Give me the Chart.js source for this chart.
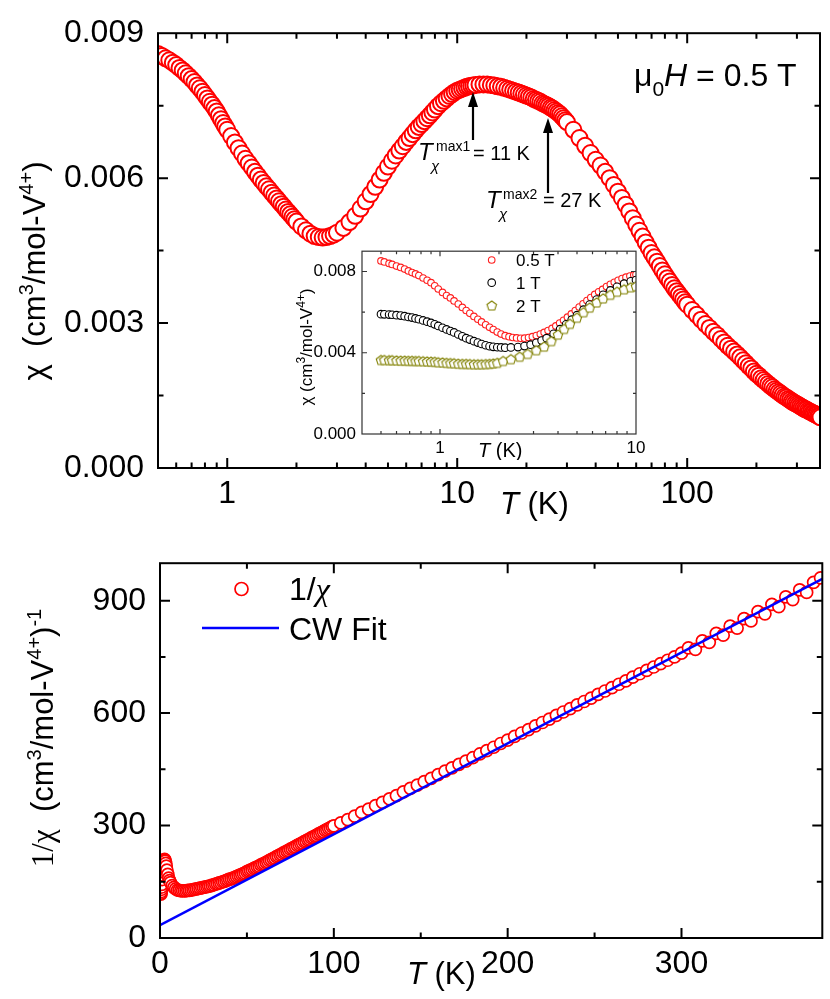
<!DOCTYPE html>
<html>
<head>
<meta charset="utf-8">
<script src="https://cdn.jsdelivr.net/npm/chart.js@4.4.1/dist/chart.umd.min.js"></script>
<style>
  html, body { margin: 0; padding: 0; background: #fff; }
  #wrap { position: relative; width: 830px; height: 999px; overflow: hidden; }
  canvas { position: absolute; }
  #top { left: 0; top: 0; }
  #bottom { left: 0; top: 530px; }
  #inset { left: 270px; top: 235px; }
</style>
</head>
<body>
<div id="wrap">
  <canvas id="top" width="830" height="530"></canvas>
  <canvas id="bottom" width="830" height="469"></canvas>
  <canvas id="inset" width="380" height="225"></canvas>
</div>
<script>
// ---- top panel: chi(T) at 0.5 T
const chiTemp = [
  0.50, 0.52, 0.54, 0.56, 0.58, 0.60, 0.62, 0.64, 0.66, 0.68, 0.70, 0.72, 0.74, 0.76, 0.78, 0.80,
  0.82, 0.84, 0.86, 0.88, 0.90, 0.92, 0.94, 0.96, 0.98, 1.00,
  1.04, 1.08, 1.12, 1.16, 1.20, 1.24, 1.28, 1.32, 1.36, 1.40, 1.44, 1.48, 1.52, 1.56, 1.60, 1.64,
  1.68, 1.72, 1.76, 1.80, 1.84, 1.88, 1.92, 1.96, 2.00,
  2.1, 2.2, 2.3, 2.4, 2.5, 2.6, 2.7, 2.8, 2.9, 3.0,
  3.2, 3.4, 3.6, 3.8, 4.0, 4.2, 4.4, 4.6, 4.8, 5.0, 5.2, 5.4, 5.6, 5.8, 6.0, 6.2, 6.4, 6.6, 6.8,
  7.0, 7.2, 7.4, 7.6, 7.8, 8.0,
  8.25, 8.5, 8.75, 9.0, 9.25, 9.5, 9.75, 10.0, 10.25, 10.5, 10.75, 11.0, 11.25, 11.5, 11.75, 12.0,
  12.5, 13, 13.5, 14, 14.5, 15, 15.5, 16, 16.5, 17, 17.5, 18, 18.5, 19, 19.5, 20, 20.5, 21, 21.5,
  22, 22.5, 23, 23.5, 24, 24.5, 25, 25.5, 26, 26.5, 27, 27.5, 28, 28.5, 29, 29.5, 30,
  32, 34, 36, 38, 40, 42, 44, 46, 48, 50, 52, 54, 56, 58, 60, 62, 64, 66, 68, 70, 72, 74, 76, 78,
  80, 82, 84, 86, 88, 90, 92, 94, 96, 98, 100,
  105, 110, 115, 120, 125, 130, 135, 140, 145, 150, 155, 160, 165, 170, 175, 180, 185, 190, 195,
  200, 205, 210, 215, 220, 225, 230, 235, 240, 245, 250, 255, 260, 265, 270, 275, 280, 285, 290,
  295, 300, 305, 310, 315, 320, 325, 330, 335, 340, 345, 350, 355, 360, 365, 370, 375, 380]
const chiVal = [
  0.00857, 0.00853, 0.00848, 0.00844, 0.00839, 0.00834, 0.00828, 0.00823, 0.00817, 0.00811,
  0.00805, 0.00799, 0.00792, 0.00786, 0.00779, 0.00772, 0.00765, 0.00758, 0.00752, 0.00745,
  0.00738, 0.00730, 0.00722, 0.00714, 0.00707, 0.00700,
  0.00687, 0.00674, 0.00662, 0.00651, 0.00640, 0.00631, 0.00622, 0.00613, 0.00605, 0.00597,
  0.00590, 0.00583, 0.00577, 0.00570, 0.00564, 0.00558, 0.00552, 0.00546, 0.00541, 0.00535,
  0.00530, 0.00525, 0.00520, 0.00515, 0.00510,
  0.00500, 0.00492, 0.00485, 0.00480, 0.00478, 0.00477, 0.00478, 0.00480, 0.00483, 0.00487,
  0.00497, 0.00509, 0.00522, 0.00537, 0.00552, 0.00567, 0.00582, 0.00597, 0.00611, 0.00624,
  0.00636, 0.00647, 0.00657, 0.00666, 0.00675, 0.00683, 0.00691, 0.00699, 0.00706, 0.00712,
  0.00718, 0.00724, 0.00730, 0.00736, 0.00742,
  0.00749, 0.00755, 0.00760, 0.00765, 0.00770, 0.00774, 0.00778, 0.00781, 0.00783, 0.00785,
  0.00787, 0.00789, 0.00790, 0.00791, 0.00792, 0.00793,
  0.00794, 0.00794, 0.00794, 0.00793, 0.00792, 0.00790, 0.00789, 0.00787, 0.00785, 0.00783,
  0.00781, 0.00779, 0.00777, 0.00775, 0.00773, 0.00771, 0.00769, 0.00767, 0.00764, 0.00762,
  0.00760, 0.00758, 0.00755, 0.00753, 0.00751, 0.00749, 0.00746, 0.00744, 0.00741, 0.00738,
  0.00735, 0.00732, 0.00728, 0.00724, 0.00720, 0.00716,
  0.00700, 0.00683, 0.00667, 0.00652, 0.00638, 0.00626, 0.00613, 0.00600, 0.00586, 0.00572,
  0.00559, 0.00545, 0.00531, 0.00517, 0.00504, 0.00491, 0.00479, 0.00467, 0.00456, 0.00445,
  0.00436, 0.00427, 0.00418, 0.00409, 0.00401, 0.00393, 0.00386, 0.00379, 0.00372, 0.00366,
  0.00360, 0.00354, 0.00349, 0.00343, 0.00338,
  0.00327, 0.00317, 0.00307, 0.00298, 0.00290, 0.00282, 0.00275, 0.00267, 0.00260, 0.00253,
  0.00247, 0.00241, 0.00235, 0.00229, 0.00223, 0.00217, 0.00211, 0.00206, 0.00200, 0.00195,
  0.00191, 0.00186, 0.00182, 0.00178, 0.00174, 0.00170, 0.00167, 0.00163, 0.00160, 0.00157,
  0.00154, 0.00151, 0.00148, 0.00146, 0.00143, 0.00141, 0.00138, 0.00136, 0.00134, 0.00132,
  0.00130, 0.00128, 0.00126, 0.00124, 0.00122, 0.00121, 0.00119, 0.00117, 0.00116, 0.00114,
  0.00113, 0.00111, 0.00110, 0.00108, 0.00107, 0.00105]
const topXLabels = [1, 10, 100]
const topYLabels = [0, 0.003, 0.006, 0.009]

// ---- inset: low-T chi for three fields
const insetFields = ['0.5 T', '1 T', '2 T']
const insetTemp05 = [0.50, 0.52, 0.55, 0.57, 0.60, 0.63, 0.66, 0.69, 0.72, 0.75, 0.78, 0.82, 0.86, 0.90,
  0.94, 0.98, 1.03, 1.08, 1.13, 1.18, 1.24, 1.30, 1.36, 1.42, 1.49, 1.56, 1.63, 1.71, 1.79, 1.87, 1.96,
  2.05, 2.15, 2.25, 2.35, 2.46, 2.58, 2.70, 2.83, 2.96, 3.10, 3.25, 3.40, 3.56, 3.73, 3.90, 4.08, 4.27,
  4.47, 4.68, 4.90, 5.13, 5.37, 5.62, 5.88, 6.16, 6.45, 6.75, 7.07, 7.40, 7.75, 8.11, 8.49, 8.89, 9.31,
  9.75, 10.0]
const insetChi05 = [0.00852, 0.00847, 0.00840, 0.00835, 0.00827, 0.00820, 0.00812, 0.00803, 0.00795,
  0.00788, 0.00780, 0.00768, 0.00757, 0.00745, 0.00730, 0.00714, 0.00697, 0.00682, 0.00670, 0.00655,
  0.00640, 0.00623, 0.00608, 0.00594, 0.00579, 0.00565, 0.00552, 0.00538, 0.00525, 0.00514, 0.00502,
  0.00492, 0.00484, 0.00479, 0.00475, 0.00473, 0.00471, 0.00472, 0.00475, 0.00479, 0.00485, 0.00492,
  0.00500, 0.00509, 0.00520, 0.00532, 0.00546, 0.00560, 0.00575, 0.00591, 0.00608, 0.00625, 0.00641,
  0.00657, 0.00672, 0.00687, 0.00700, 0.00712, 0.00726, 0.00737, 0.00747, 0.00757, 0.00765, 0.00772,
  0.00778, 0.00783, 0.00785]
const insetTemp1 = [0.50, 0.52, 0.55, 0.57, 0.60, 0.63, 0.66, 0.69, 0.72, 0.75, 0.78, 0.82, 0.86, 0.90,
  0.94, 0.98, 1.03, 1.08, 1.13, 1.18, 1.24, 1.30, 1.36, 1.42, 1.49, 1.56, 1.63, 1.71, 1.79, 1.87, 1.96,
  2.05, 2.15, 2.30, 2.50, 2.70, 2.90, 3.10, 3.30, 3.50, 3.80, 4.10, 4.40, 4.70, 5.00, 5.40, 5.80, 6.30,
  6.80, 7.40, 8.00, 8.70, 9.40, 10.0]
const insetChi1 = [0.00590, 0.00589, 0.00588, 0.00587, 0.00585, 0.00583, 0.00580, 0.00576, 0.00573,
  0.00569, 0.00565, 0.00559, 0.00553, 0.00547, 0.00540, 0.00532, 0.00523, 0.00515, 0.00507, 0.00500,
  0.00490, 0.00481, 0.00472, 0.00465, 0.00457, 0.00450, 0.00443, 0.00437, 0.00432, 0.00429, 0.00427,
  0.00426, 0.00425, 0.00426, 0.00428, 0.00433, 0.00440, 0.00449, 0.00460, 0.00472, 0.00493, 0.00516,
  0.00540, 0.00563, 0.00585, 0.00612, 0.00637, 0.00662, 0.00685, 0.00707, 0.00725, 0.00740, 0.00752,
  0.00758]
const insetTemp2 = [0.50, 0.52, 0.55, 0.57, 0.60, 0.63, 0.66, 0.69, 0.72, 0.75, 0.78, 0.82, 0.86, 0.90,
  0.94, 0.98, 1.03, 1.08, 1.13, 1.18, 1.24, 1.30, 1.36, 1.42, 1.49, 1.56, 1.63, 1.71, 1.79, 1.87,
  1.96, 2.10, 2.30, 2.55, 2.80, 3.10, 3.40, 3.70, 4.00, 4.30, 4.60, 5.00, 5.40, 5.80, 6.30, 6.80, 7.40,
  8.00, 8.70, 9.40, 10.0]
const insetChi2 = [0.00362, 0.00362, 0.00361, 0.00361, 0.00360, 0.00359, 0.00359, 0.00358, 0.00358,
  0.00357, 0.00357, 0.00356, 0.00355, 0.00354, 0.00353, 0.00351, 0.00350, 0.00348, 0.00347, 0.00346,
  0.00344, 0.00343, 0.00343, 0.00342, 0.00341, 0.00341, 0.00341, 0.00342, 0.00343, 0.00345,
  0.00348, 0.00357, 0.00366, 0.00378, 0.00392, 0.00410, 0.00428, 0.00455, 0.00487, 0.00515, 0.00540,
  0.00570, 0.00597, 0.00620, 0.00645, 0.00665, 0.00683, 0.00698, 0.00710, 0.00720, 0.00725]
const insetXLabels = [1, 10]
const insetYLabels = [0, 0.004, 0.008]

// ---- bottom panel: 1/chi and Curie-Weiss fit
const invTemp = [0.5, 0.6, 0.7, 0.8, 0.9, 1.0, 1.2, 1.4, 1.6, 1.8, 2.0, 2.2, 2.4, 2.6, 2.8, 3.0, 3.3,
  3.6, 4.0, 4.5, 5.0, 5.5, 6.0, 7.0, 8.0, 9.0, 10, 11,
  12, 13, 14, 15, 16, 17, 18, 19, 20, 21, 22, 23, 24, 25, 26, 27, 28, 29, 30, 31, 32, 33, 34, 35,
  36, 37, 38, 39, 40, 41, 42, 43, 44, 45, 46, 47, 48, 49, 50, 51, 52, 53, 54, 55, 56, 57, 58, 59,
  60, 61, 62, 63, 64, 65, 66, 67, 68, 69, 70, 71, 72, 73, 74, 75, 76, 77, 78, 79, 80, 81, 82, 83,
  84, 85, 86, 87, 88, 89, 90, 91, 92, 93, 94, 95, 96, 97, 98, 99, 100,
  104, 108, 112, 116, 120, 124, 128, 132, 136, 140, 144, 148, 152, 156, 160, 164, 168, 172, 176,
  180, 184, 188, 192, 196, 200, 204, 208, 212, 216, 220, 224, 228, 232, 236, 240, 244, 248, 252,
  256, 260, 264, 268, 272, 276, 280, 284, 288, 292, 296, 300, 304, 308, 312, 316, 320, 324, 328,
  332, 336, 340, 344, 348, 352, 356, 360, 364, 368, 372, 376, 380]
const invChi = [117, 120, 124, 130, 136, 143, 156, 168, 177, 187, 196, 203, 208, 210, 208, 205, 199,
  192, 181, 170, 160, 153, 148, 140, 135, 131, 128, 127,
  126, 126, 126, 126, 127, 127, 128, 129, 130,
  131, 132, 133, 134, 135, 136, 137, 138, 139, 141,
  142, 144, 145, 147, 148, 150, 151, 153, 155, 157,
  158, 160, 162, 164, 166, 168, 170, 172, 174, 177,
  179, 181, 183, 186, 188, 190, 192, 195, 197, 199,
  202, 204, 207, 209, 212, 214, 217, 219, 222, 224,
  227, 229, 232, 234, 237, 239, 242, 244, 247, 249,
  252, 254, 257, 259, 262, 264, 267, 269, 272, 274,
  277, 279, 282, 284, 287, 289, 292, 294, 297, 299,
  307, 316, 325, 335, 344, 353, 362, 371, 380, 390,
  399, 408, 417, 426, 436, 445, 454, 463, 472, 481,
  491, 500, 509, 519, 528, 538, 547, 556, 566, 575,
  584, 594, 603, 612, 622, 631, 640, 650, 659, 668,
  677, 686, 696, 705, 714, 723, 732, 741, 750, 760,
  774, 770, 793, 789, 813, 808, 832, 827, 852, 846,
  871, 865, 890, 884, 910, 903, 929, 922, 949, 961]
const cwTemp = [0, 381]
const cwFit = [34.5, 958]
const bottomXLabels = [0, 100, 200, 300]
const bottomYLabels = [0, 300, 600, 900]

const FONT = "'Liberation Sans', Arial, Helvetica, sans-serif"
const SERIF = "'Liberation Serif', 'Times New Roman', serif"
Chart.defaults.font.family = FONT
Chart.defaults.color = '#000'
Chart.defaults.animation = false

const pts = (xs, ys) => xs.map((x, i) => ({ x: x, y: ys[i] }))
const near = (v, list) => list.some(t => Math.abs(v - t) < 1e-9)
const multOf = (v, step) => Math.abs(v / step - Math.round(v / step)) < 1e-6
const decadeMult = v => {
    const e = Math.floor(Math.log10(v) + 1e-9)
    const m = v / Math.pow(10, e)
    return Math.abs(m - Math.round(m)) < 1e-6
}

// text made of pieces (italic, sub/superscripts)
function rich(ctx, x, y, parts, align, angle) {
    ctx.save()
    ctx.translate(x, y)
    if (angle) ctx.rotate(angle)
    ctx.fillStyle = '#000'
    ctx.textBaseline = 'alphabetic'
    ctx.textAlign = 'left'
    const fontOf = p => (p.style || 'normal') + ' ' + p.size + 'px ' + (p.family || FONT)
    let w = 0
    parts.forEach(p => { ctx.font = fontOf(p); w += ctx.measureText(p.t).width })
    let cx = align === 'center' ? -w / 2 : 0
    parts.forEach(p => {
        ctx.font = fontOf(p)
        ctx.fillText(p.t, cx, p.dy || 0)
        cx += ctx.measureText(p.t).width
    })
    ctx.restore()
}

function arrow(ctx, x, y0, y1) {
    ctx.save()
    ctx.strokeStyle = '#000'
    ctx.fillStyle = '#000'
    ctx.lineWidth = 2.2
    ctx.beginPath()
    ctx.moveTo(x, y0)
    ctx.lineTo(x, y1 + 10)
    ctx.stroke()
    ctx.beginPath()
    ctx.moveTo(x, y1)
    ctx.lineTo(x - 5, y1 + 15)
    ctx.lineTo(x + 5, y1 + 15)
    ctx.closePath()
    ctx.fill()
    ctx.restore()
}

function pentagon(r, color) {
    const c = document.createElement('canvas')
    const s = Math.ceil(2 * r + 4)
    c.width = s
    c.height = s
    const g = c.getContext('2d')
    g.beginPath()
    for (let i = 0; i < 5; i++) {
        const a = -Math.PI / 2 + i * 2 * Math.PI / 5
        const px = s / 2 + r * Math.cos(a), py = s / 2 + r * Math.sin(a)
        if (i) g.lineTo(px, py)
        else g.moveTo(px, py)
    }
    g.closePath()
    g.fillStyle = '#fff'
    g.fill()
    g.strokeStyle = color
    g.lineWidth = 1.1
    g.stroke()
    return c
}

// frame with inward ticks on all four sides
function framePlugin(o) {
    return {
        id: 'frame',
        beforeDatasetsDraw(chart) {
            if (!o.fill) return
            const a = chart.chartArea
            chart.ctx.save()
            chart.ctx.fillStyle = '#fff'
            chart.ctx.fillRect(a.left, a.top, a.right - a.left, a.bottom - a.top)
            chart.ctx.restore()
        },
        afterDatasetsDraw(chart) {
            const { ctx, chartArea: a, scales } = chart
            ctx.save()
            ctx.strokeStyle = o.color || '#000'
            ctx.lineWidth = o.width
            ctx.beginPath()
            scales.x.ticks.forEach(t => {
                const kind = o.xKind(t.value)
                if (!kind) return
                const len = kind === 'major' ? o.major : o.minor
                const px = scales.x.getPixelForValue(t.value)
                if (px < a.left + 1 || px > a.right - 1) return
                ctx.moveTo(px, a.bottom)
                ctx.lineTo(px, a.bottom - len)
                ctx.moveTo(px, a.top)
                ctx.lineTo(px, a.top + len)
            })
            scales.y.ticks.forEach(t => {
                const kind = o.yKind(t.value)
                if (!kind) return
                const len = kind === 'major' ? o.major : o.minor
                const py = scales.y.getPixelForValue(t.value)
                if (py < a.top + 1 || py > a.bottom - 1) return
                ctx.moveTo(a.left, py)
                ctx.lineTo(a.left + len, py)
                ctx.moveTo(a.right, py)
                ctx.lineTo(a.right - len, py)
            })
            ctx.stroke()
            ctx.strokeRect(a.left, a.top, a.right - a.left, a.bottom - a.top)
            ctx.restore()
        },
        afterDraw(chart) {
            if (o.draw) o.draw(chart.ctx, chart)
        },
    }
}

const logKind = labels => v => decadeMult(v) ? (near(v, labels) ? 'major' : 'minor') : null
const linKind = (labels, step) => v => multOf(v, step) ? (near(v, labels) ? 'major' : 'minor') : null
const noGrid = { display: false, drawTicks: false }

// ---------------- top chart
new Chart(document.getElementById('top'), {
    type: 'scatter',
    data: {
        datasets: [{
            data: pts(chiTemp, chiVal),
            pointRadius: 8,
            pointBorderWidth: 2,
            pointBorderColor: '#ff0000',
            pointBackgroundColor: '#ffffff',
        }],
    },
    options: {
        responsive: false,
        events: [],
        layout: { padding: { left: 0, right: 6, top: 29, bottom: 0 } },
        plugins: { legend: { display: false }, tooltip: { enabled: false } },
        scales: {
            x: {
                type: 'logarithmic', min: 0.5, max: 378,
                grid: noGrid, border: { display: false },
                ticks: {
                    autoSkip: false, maxRotation: 0, padding: 7, font: { size: 32 },
                    callback: v => near(v, topXLabels) ? String(v) : '',
                },
                afterFit: s => { s.height = 62 },
            },
            y: {
                min: 0, max: 0.009,
                grid: noGrid, border: { display: false },
                ticks: {
                    stepSize: 0.0015, autoSkip: false, padding: 14, font: { size: 32 },
                    callback: v => near(v, topYLabels) ? v.toFixed(3) : '',
                },
                afterFit: s => { s.width = 158 },
            },
        },
    },
    plugins: [framePlugin({
        width: 2, major: 10, minor: 5.5,
        xKind: logKind(topXLabels),
        yKind: linKind(topYLabels, 0.0015),
        draw(ctx) {
            rich(ctx, 45, 271, [
                { t: 'χ', size: 31 }, { t: '  (cm', size: 31 }, { t: '3', size: 20, dy: -12 },
                { t: '/mol-V', size: 31 }, { t: '4+', size: 20, dy: -12 }, { t: ')', size: 31 },
            ], 'center', -Math.PI / 2)
            rich(ctx, 500, 514, [{ t: 'T', size: 31, style: 'italic' }, { t: ' (K)', size: 31 }])
            rich(ctx, 634, 86, [
                { t: 'μ', size: 32 }, { t: '0', size: 21, dy: 10 },
                { t: 'H', size: 32, style: 'italic' }, { t: ' = 0.5 T', size: 32 },
            ])
            arrow(ctx, 473, 140, 92)
            arrow(ctx, 548, 193, 118)
            rich(ctx, 418, 160, [{ t: 'T', size: 24, style: 'italic' }])
            rich(ctx, 436, 151, [{ t: 'max1', size: 14 }])
            rich(ctx, 431, 171, [{ t: 'χ', size: 15, style: 'italic' }])
            rich(ctx, 473, 160, [{ t: '= 11 K', size: 20 }])
            rich(ctx, 486, 208, [{ t: 'T', size: 24, style: 'italic' }])
            rich(ctx, 503, 199, [{ t: 'max2', size: 14 }])
            rich(ctx, 499, 219, [{ t: 'χ', size: 15, style: 'italic' }])
            rich(ctx, 543, 207, [{ t: '= 27 K', size: 20 }])
        },
    })],
})

// ---------------- inset
const olivePenta = pentagon(5, '#808000')
new Chart(document.getElementById('inset'), {
    type: 'scatter',
    data: {
        datasets: [
            {
                data: pts(insetTemp05, insetChi05), order: 3,
                pointRadius: 3.3, pointBorderWidth: 1.1,
                pointBorderColor: '#ff2020', pointBackgroundColor: '#ffffff',
            },
            {
                data: pts(insetTemp1, insetChi1), order: 2,
                pointRadius: 3.8, pointBorderWidth: 1.1,
                pointBorderColor: '#000000', pointBackgroundColor: '#ffffff',
            },
            {
                data: pts(insetTemp2, insetChi2), order: 1,
                pointStyle: olivePenta,
            },
        ],
    },
    options: {
        responsive: false,
        events: [],
        layout: { padding: { left: 0, right: 14, top: 8, bottom: 0 } },
        plugins: { legend: { display: false }, tooltip: { enabled: false } },
        scales: {
            x: {
                type: 'logarithmic', min: 0.4, max: 10,
                grid: noGrid, border: { display: false },
                ticks: {
                    autoSkip: false, maxRotation: 0, padding: 4, font: { size: 17 },
                    callback: v => near(v, insetXLabels) ? String(v) : '',
                },
                afterFit: s => { s.height = 26 },
            },
            y: {
                min: 0, max: 0.009,
                grid: noGrid, border: { display: false },
                ticks: {
                    stepSize: 0.002, autoSkip: false, padding: 6, font: { size: 17 },
                    callback: v => near(v, insetYLabels) ? v.toFixed(3) : '',
                },
                afterFit: s => { s.width = 92 },
            },
        },
    },
    plugins: [framePlugin({
        width: 1.2, color: '#333', major: 5, minor: 3, fill: true,
        xKind: logKind(insetXLabels),
        yKind: linKind(insetYLabels, 0.002),
        draw(ctx) {
            rich(ctx, 42, 112, [
                { t: 'χ', size: 17 }, { t: ' (cm', size: 17 }, { t: '3', size: 12, dy: -7 },
                { t: '/mol-V', size: 17 }, { t: '4+', size: 12, dy: -7 }, { t: ')', size: 17 },
            ], 'center', -Math.PI / 2)
            rich(ctx, 208, 222, [{ t: 'T', size: 20, style: 'italic' }, { t: ' (K)', size: 20 }])
            // legend
            const rows = [25, 47.7, 71]
            const cols = ['#ff2020', '#000000']
            ctx.save()
            ctx.fillStyle = '#fff'
            ctx.lineWidth = 1.1
            for (let i = 0; i < 2; i++) {
                ctx.strokeStyle = cols[i]
                ctx.beginPath()
                ctx.arc(221.7, rows[i], i ? 3.8 : 3.3, 0, Math.PI * 2)
                ctx.fill()
                ctx.stroke()
            }
            ctx.drawImage(olivePenta, 221.7 - olivePenta.width / 2, rows[2] - olivePenta.height / 2)
            ctx.restore()
            insetFields.forEach((f, i) => rich(ctx, 246, rows[i] + 6, [{ t: f, size: 17 }]))
        },
    })],
})

// ---------------- bottom chart
new Chart(document.getElementById('bottom'), {
    type: 'scatter',
    data: {
        datasets: [
            {
                data: pts(cwTemp, cwFit), showLine: true,
                borderColor: '#0000ff', borderWidth: 2.5, pointRadius: 0,
            },
            {
                data: pts(invTemp, invChi),
                pointRadius: 6, pointBorderWidth: 1.7,
                pointBorderColor: '#ff0000', pointBackgroundColor: '#ffffff',
            },
        ],
    },
    options: {
        responsive: false,
        events: [],
        layout: { padding: { left: 0, right: 6, top: 21, bottom: 0 } },
        plugins: { legend: { display: false }, tooltip: { enabled: false } },
        scales: {
            x: {
                min: 0, max: 381,
                grid: noGrid, border: { display: false },
                ticks: {
                    stepSize: 50, autoSkip: false, maxRotation: 0, padding: 7, font: { size: 32 },
                    callback: v => near(v, bottomXLabels) ? String(v) : '',
                },
                afterFit: s => { s.height = 61 },
            },
            y: {
                min: 0, max: 1000,
                grid: noGrid, border: { display: false },
                ticks: {
                    stepSize: 150, autoSkip: false, padding: 14, font: { size: 32 },
                    callback: v => near(v, bottomYLabels) ? String(v) : '',
                },
                afterFit: s => { s.width = 160 },
            },
        },
    },
    plugins: [framePlugin({
        width: 2, major: 10, minor: 5.5,
        xKind: linKind(bottomXLabels, 50),
        yKind: linKind(bottomYLabels, 150),
        draw(ctx) {
            rich(ctx, 53, 208, [
                { t: '1/χ', size: 31, family: SERIF }, { t: '  (cm', size: 31 }, { t: '3', size: 20, dy: -12 },
                { t: '/mol-V', size: 31 }, { t: '4+', size: 20, dy: -12 }, { t: ')', size: 31 },
                { t: '-1', size: 20, dy: -12 },
            ], 'center', -Math.PI / 2)
            rich(ctx, 407, 454, [{ t: 'T', size: 31, style: 'italic' }, { t: ' (K)', size: 31 }])
            // legend
            ctx.save()
            ctx.strokeStyle = '#ff0000'
            ctx.fillStyle = '#fff'
            ctx.lineWidth = 1.7
            ctx.beginPath()
            ctx.arc(241.5, 59, 6.5, 0, Math.PI * 2)
            ctx.fill()
            ctx.stroke()
            ctx.strokeStyle = '#0000ff'
            ctx.lineWidth = 2.5
            ctx.beginPath()
            ctx.moveTo(202, 98)
            ctx.lineTo(279, 98)
            ctx.stroke()
            ctx.restore()
            rich(ctx, 289, 70, [{ t: '1/', size: 32 }, { t: 'χ', size: 32, style: 'italic', family: SERIF }])
            rich(ctx, 289, 110, [{ t: 'CW Fit', size: 32 }])
        },
    })],
})
</script>
</body>
</html>
